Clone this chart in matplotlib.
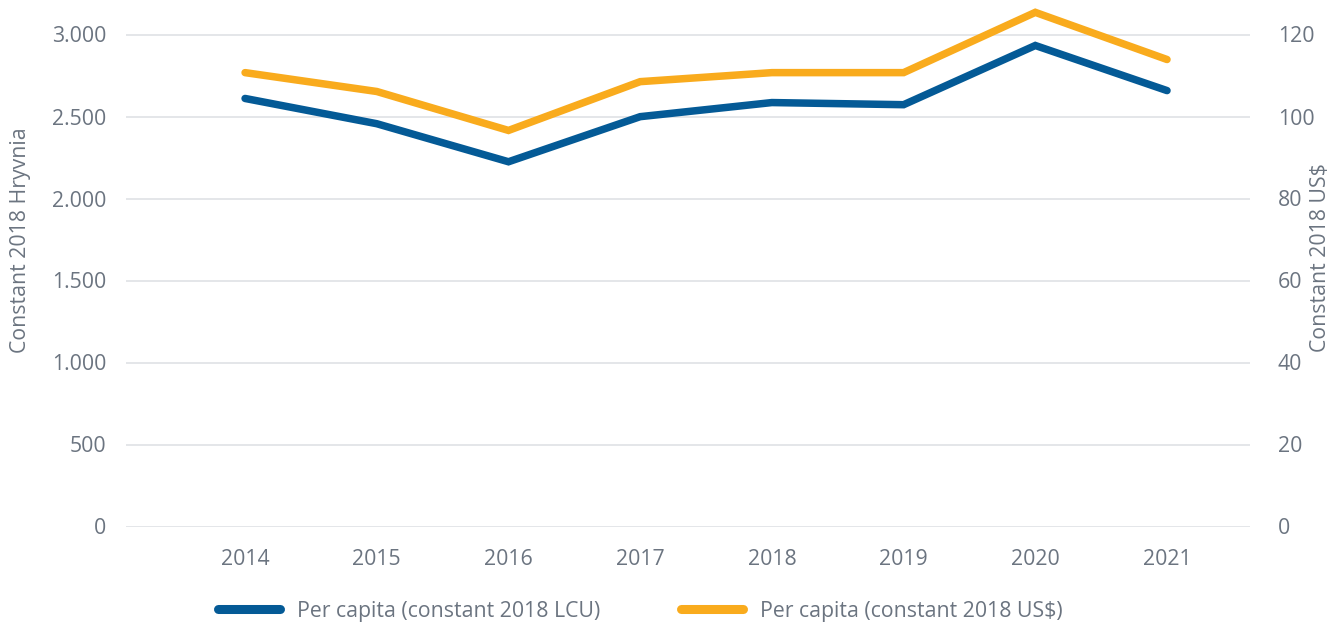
import matplotlib
matplotlib.use("Agg")
import matplotlib.pyplot as plt
from matplotlib.ticker import FuncFormatter, FixedLocator
from matplotlib.lines import Line2D

years = ["2014", "2015", "2016", "2017", "2018", "2019", "2020", "2021"]
lcu = [2610, 2456, 2224, 2499, 2585, 2572, 2933, 2658]
usd = [110.7, 106.1, 96.6, 108.5, 110.7, 110.7, 125.4, 113.9]

BLUE = "#045a96"
ORANGE = "#f9ab1d"
GRAY = "#6b7480"
GRID = "#dcdfe3"
FS = 15.3

plt.rcParams['font.family'] = ['Open Sans', 'DejaVu Sans']

W, H = 1331, 624
fig = plt.figure(figsize=(W / 100, H / 100), dpi=100)
left, right = 126 / W, 1250 / W
bottom = 1 - 526.5 / H
top_px = 526.5 - 3200 * (526.5 - 34.5) / 3000
top = 1 - top_px / H
ax = fig.add_axes([left, bottom, right - left, top - bottom])
ax2 = ax.twinx()

x = list(range(len(years)))
ax.plot(x, lcu, color=BLUE, lw=5.4, solid_capstyle='round', solid_joinstyle='miter', zorder=3)
ax2.plot(x, usd, color=ORANGE, lw=5.4, solid_capstyle='round', solid_joinstyle='miter', zorder=3)

ax.set_xlim(-0.904, 7.63)
ax.set_ylim(0, 3200)
ax2.set_ylim(0, 128)
ax.yaxis.set_major_locator(FixedLocator([0, 500, 1000, 1500, 2000, 2500, 3000]))
ax2.yaxis.set_major_locator(FixedLocator([0, 20, 40, 60, 80, 100, 120]))
ax.yaxis.set_major_formatter(FuncFormatter(lambda v, p: f"{int(v):,}".replace(",", ".")))
ax.set_xticks(x)
ax.set_xticklabels(years)

for a in (ax, ax2):
    for s in a.spines.values():
        s.set_visible(False)
    a.tick_params(length=0, labelsize=FS, colors=GRAY)
ax.tick_params(axis='y', pad=14)
ax2.tick_params(axis='y', pad=20)
ax.tick_params(axis='x', pad=16)
ax.grid(axis='y', color=GRID, lw=1.1)
ax.set_axisbelow(True)

fig.text(21 / W, 1 - 240 / H, "Constant 2018 Hryvnia", rotation=90, ha='center', va='center',
         color=GRAY, fontsize=FS)
fig.text(1320 / W, 1 - 258 / H, "Constant 2018 US$", rotation=90, ha='center', va='center',
         color=GRAY, fontsize=FS)

handles = [Line2D([], [], color=BLUE, lw=6.5, solid_capstyle='round'),
           Line2D([], [], color=ORANGE, lw=6.5, solid_capstyle='round')]
fig.legend(handles, ["Per capita (constant 2018 LCU)", "Per capita (constant 2018 US$)"],
           loc='center', bbox_to_anchor=(0.481, 1 - 611 / H), ncol=2, frameon=False,
           fontsize=FS, labelcolor=GRAY, handlelength=2.9, handletextpad=0.8, columnspacing=3.8)

fig.savefig("out.png", dpi=100)
